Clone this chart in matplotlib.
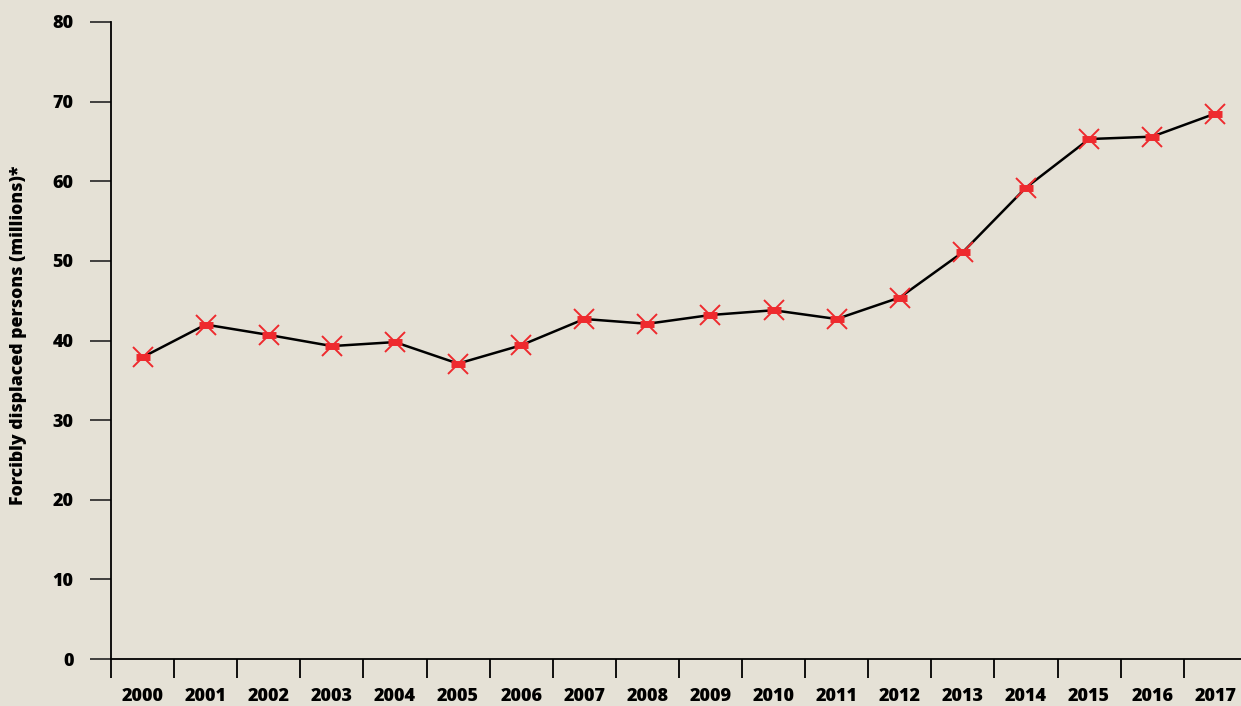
import numpy as np
import matplotlib
matplotlib.use('Agg')
import matplotlib.pyplot as plt

# Forcibly displaced persons, millions
years = ['2000', '2001', '2002', '2003', '2004', '2005', '2006', '2007', '2008',
         '2009', '2010', '2011', '2012', '2013', '2014', '2015', '2016', '2017']
displaced = [37.9, 42.0, 40.7, 39.3, 39.8, 37.1, 39.4, 42.7, 42.1,
             43.2, 43.8, 42.7, 45.4, 51.1, 59.2, 65.3, 65.6, 68.5]
y_ticks = [0, 10, 20, 30, 40, 50, 60, 70, 80]

bg = '#E5E1D6'
red = '#EE2A2E'

plt.rcParams['font.family'] = ['Open Sans', 'DejaVu Sans']

fig = plt.figure(figsize=(12.41, 7.06), dpi=100, facecolor=bg)
ax = fig.add_axes([111 / 1241, 47 / 706, 18 * 63.1 / 1241, 637 / 706])
ax.set_facecolor(bg)

x = np.arange(len(years))
ax.plot(x, displaced, color='black', lw=1.8, zorder=2)
# hand-drawn looking red star markers: an X plus a short thick bar
ax.plot(x, displaced, ls='none', marker='x', ms=15, mew=1.4, color=red, zorder=3)
ax.plot(x, displaced, ls='none', marker='_', ms=10, mew=5, color=red, zorder=3)

ax.set_xlim(-0.5, len(years) - 0.5)
ax.set_ylim(0, 80)

# category boundaries as major ticks, labels at centres
ax.set_xticks(np.arange(len(years) + 1) - 0.5)
ax.set_xticklabels([])
ax.set_xticks(x, minor=True)
ax.set_xticklabels(years, minor=True, fontsize=13, fontweight='heavy')
ax.tick_params(axis='x', which='major', length=13.5, width=1.3, color='black')
ax.tick_params(axis='x', which='minor', length=0, pad=21)

ax.set_yticks(y_ticks)
ax.set_yticklabels([str(v) for v in y_ticks], fontsize=13, fontweight='heavy')
ax.tick_params(axis='y', length=15, width=1.3, color='#333333', pad=12)

for s in ['top', 'right']:
    ax.spines[s].set_visible(False)
for s in ['left', 'bottom']:
    ax.spines[s].set_linewidth(1.3)
    ax.spines[s].set_color('black')

fig.text(19 / 1241, (706 - 335) / 706, 'Forcibly displaced persons (millions)*',
         rotation=90, ha='center', va='center', fontsize=12.7, fontweight='heavy')

fig.savefig('out.png', dpi=100, facecolor=bg)
